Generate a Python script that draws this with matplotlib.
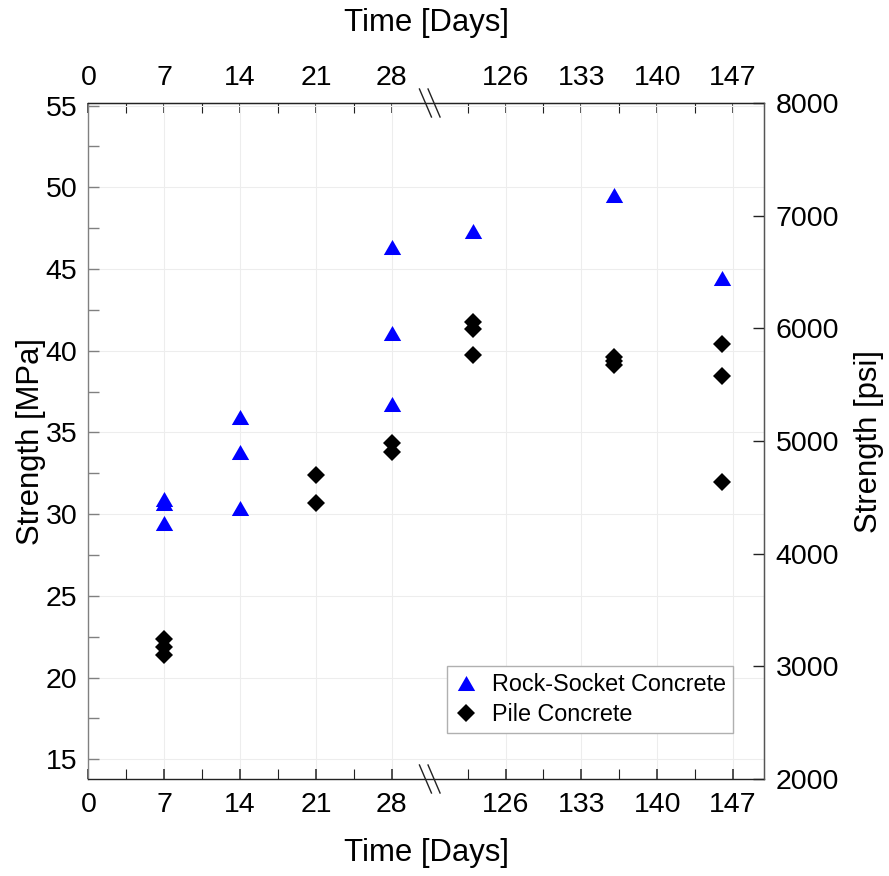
import numpy as np
import matplotlib.pyplot as plt

plt.rcParams['font.family'] = ['Liberation Sans', 'DejaVu Sans']

#----------------------------------------------------
# Data
#----------------------------------------------------
MPA_PER_PSI = 0.00689476
BREAK_DAY = 31.5   # axis break sits here
GAP = 87.5         # days cut out by the break

rock_days = [7, 7, 7, 14, 14, 14, 28, 28, 28, 123, 136, 146]
rock_mpa = [30.9, 30.65, 29.45, 35.95, 33.8, 30.4, 46.35, 41.1, 36.75, 47.3, 49.55, 44.45]

pile_days = [7, 7, 7, 21, 21, 28, 28, 123, 123, 123, 136, 136, 136, 146, 146, 146]
pile_mpa = [22.35, 21.85, 21.35, 32.4, 30.65, 34.35, 33.8, 41.75, 41.35, 39.75,
            39.6, 39.4, 39.15, 40.4, 38.45, 31.95]

major_days = [0, 7, 14, 21, 28, 126, 133, 140, 147]
minor_days = [3.5, 10.5, 17.5, 24.5, 122.5, 129.5, 136.5, 143.5]
mpa_ticks = [15, 20, 25, 30, 35, 40, 45, 50, 55]
mpa_minor = [17.5, 22.5, 27.5, 32.5, 37.5, 42.5, 47.5, 52.5]
psi_ticks = [2000, 3000, 4000, 5000, 6000, 7000, 8000]


def to_axis(days):
    d = np.asarray(days, dtype=float)
    return np.where(d > BREAK_DAY, d - GAP, d)


#----------------------------------------------------
# Figure
#----------------------------------------------------
TICK_FS = 20.5
LABEL_FS = 22.4

fig = plt.figure(figsize=(8.89, 8.76), dpi=100)
ax = fig.add_axes([0.09955, 0.11073, 0.7604, 0.77169])

tri = [(0, 0.433), (-0.5, -0.433), (0.5, -0.433)]
ax.plot(to_axis(rock_days), rock_mpa, ls='none', marker=tri, ms=12.5,
        color='#0000ff', mew=0, label='Rock-Socket Concrete', zorder=3)
ax.plot(to_axis(pile_days), pile_mpa, ls='none', marker='D', ms=9,
        color='black', mew=0, label='Pile Concrete', zorder=3)

ax.set_xlim(0, 62.4)
ax.set_ylim(psi_ticks[0] * MPA_PER_PSI, psi_ticks[-1] * MPA_PER_PSI)

ax.set_xticks(to_axis(major_days), [str(d) for d in major_days])
ax.set_xticks(to_axis(minor_days), minor=True)
ax.set_yticks(mpa_ticks, [str(v) for v in mpa_ticks])
ax.set_yticks(mpa_minor, minor=True)

ax.grid(True, which='major', color='#ededed', lw=0.8)
ax.set_axisbelow(True)

ax.tick_params(axis='x', which='both', direction='in', length=7.5,
               color='#222222', labelsize=TICK_FS, pad=9, top=False)
ax.tick_params(axis='x', which='major', width=1.1)
ax.tick_params(axis='x', which='minor', width=0.8)
ax.tick_params(axis='y', which='both', direction='in', length=8,
               color='#808080', width=1.0, labelsize=TICK_FS, pad=8)

ax.set_xlabel('Time [Days]', fontsize=LABEL_FS, labelpad=15)
ax.set_ylabel('Strength [MPa]', fontsize=LABEL_FS, labelpad=0)

for side, col in [('left', '#808080'), ('bottom', '#222222'), ('top', '#222222'), ('right', '#555555')]:
    ax.spines[side].set_color(col)
    ax.spines[side].set_linewidth(1.0)

# top axis mirrors the bottom one
sec = ax.secondary_xaxis('top')
sec.set_xticks(to_axis(major_days), [str(d) for d in major_days])
sec.set_xticks(to_axis(minor_days), minor=True)
sec.tick_params(axis='x', which='both', direction='in', length=7.5,
                color='#222222', labelsize=TICK_FS, pad=9)
sec.tick_params(axis='x', which='major', width=1.1)
sec.tick_params(axis='x', which='minor', width=0.8)
sec.spines['top'].set_color('#222222')
sec.set_xlabel('Time [Days]', fontsize=LABEL_FS, labelpad=24)

# right axis in psi
ax2 = ax.twinx()
ax2.set_ylim(psi_ticks[0], psi_ticks[-1])
ax2.set_yticks(psi_ticks, [str(v) for v in psi_ticks])
ax2.tick_params(axis='y', direction='in', length=8, color='#222222',
                width=1.0, labelsize=TICK_FS, pad=8)
ax2.set_ylabel('Strength [psi]', fontsize=LABEL_FS, labelpad=11)
for side in ['left', 'bottom', 'top']:
    ax2.spines[side].set_visible(False)
ax2.spines['right'].set_color('#555555')

# break marks on the top and bottom spines
xlo, xhi = ax.get_xlim()
xb = (BREAK_DAY - xlo) / (xhi - xlo)
h = 676.0
for yb in (0.0, 1.0):
    for off in (-4.3, 4.3):
        ax.plot([xb + (off - 6) / h, xb + (off + 6) / h],
                [yb + 14 / h, yb - 14 / h], transform=ax.transAxes,
                color='#222222', lw=1.0, clip_on=False, zorder=5)

ax.legend(loc='lower right', bbox_to_anchor=(0.953, 0.068), borderaxespad=0,
          fancybox=False, edgecolor='#b0b0b0', framealpha=1, fontsize=16.8,
          handlelength=1.0, handletextpad=0.6, borderpad=0.3, labelspacing=0.3)

fig.savefig('out.png', dpi=100)
